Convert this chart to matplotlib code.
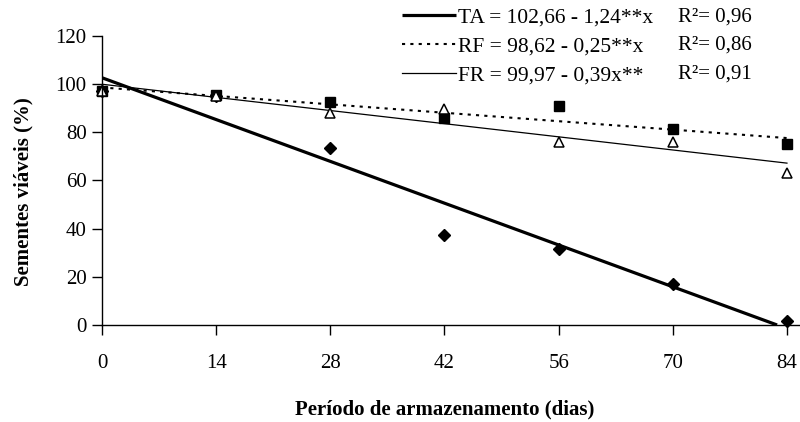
import matplotlib
matplotlib.use("Agg")
import matplotlib.pyplot as plt
import numpy as np

plt.rcParams['font.family'] = ['Liberation Serif', 'DejaVu Serif']

days = [0, 14, 28, 42, 56, 70, 84]
ta_obs = [97, 95, 73.5, 37.5, 31.5, 17, 1.5]
rf_obs = [97, 95.5, 92.5, 86, 91, 81.5, 75]
fr_obs = [97, 95, 88, 89.5, 76, 76, 63]

# regression coefficients (intercept, slope) from the legend
ta_fit = (102.66, -1.24)
rf_fit = (98.62, -0.25)
fr_fit = (99.97, -0.39)

labels = ["TA = 102,66 - 1,24**x", "RF = 98,62 - 0,25**x", "FR = 99,97 - 0,39x**"]
r2_labels = ["R²= 0,96", "R²= 0,86", "R²= 0,91"]
xticks = [0, 14, 28, 42, 56, 70, 84]
yticks = [0, 20, 40, 60, 80, 100, 120]

fig = plt.figure(figsize=(8, 4.22), dpi=100)
ax = fig.add_axes([0.1275, 0.2299, 0.8725, 0.6848])

xf = np.array([0, 84.0])
ta_end = -ta_fit[0] / ta_fit[1]
xta = np.array([0, ta_end])
l1, = ax.plot(xta, ta_fit[0] + ta_fit[1] * xta, color='black', lw=2.3, solid_capstyle='butt')
l2, = ax.plot(xf, rf_fit[0] + rf_fit[1] * xf, color='black', lw=1.5, ls=(0, (1.5, 2.5)))
l3, = ax.plot(xf, fr_fit[0] + fr_fit[1] * xf, color='black', lw=0.9)

ax.plot(days, ta_obs, ls='none', marker='D', ms=6.5, color='black', clip_on=False)
ax.plot(days, rf_obs, ls='none', marker='s', ms=6.5, color='black', clip_on=False)
ax.plot(days, fr_obs, ls='none', marker='^', ms=7.5, mfc='white', mec='black', mew=1.1, clip_on=False)

ax.set_xlim(0, 85.6)
ax.set_ylim(0, 120)
ax.set_xticks(xticks)
ax.set_yticks(yticks)
ax.tick_params(axis='x', direction='out', length=7, width=1, pad=14, labelsize=15)
ax.tick_params(axis='y', direction='out', length=7, width=1, pad=4, labelsize=15)
for s in ['top', 'right']:
    ax.spines[s].set_visible(False)
ax.spines['left'].set_linewidth(1)
ax.spines['bottom'].set_linewidth(1)

fig.text(0.029, 0.547, "Sementes viáveis (%)", rotation=90, ha='center', va='center',
         fontsize=15, fontweight='bold')
fig.text(0.556, 0.03, "Período de armazenamento (dias)", ha='center', va='center',
         fontsize=15, fontweight='bold')

leg = fig.legend([l1, l2, l3], labels, loc='upper left', bbox_to_anchor=(0.497, 0.993),
                 frameon=False, fontsize=15.5, handlelength=2.5, handletextpad=0.1,
                 labelspacing=0.42, borderaxespad=0.0, borderpad=0.2)
ys = [0.959, 0.893, 0.824]
for y, t in zip(ys, r2_labels):
    fig.text(0.8475, y, t, ha='left', va='center', fontsize=15)

fig.savefig("out.png", dpi=100)
